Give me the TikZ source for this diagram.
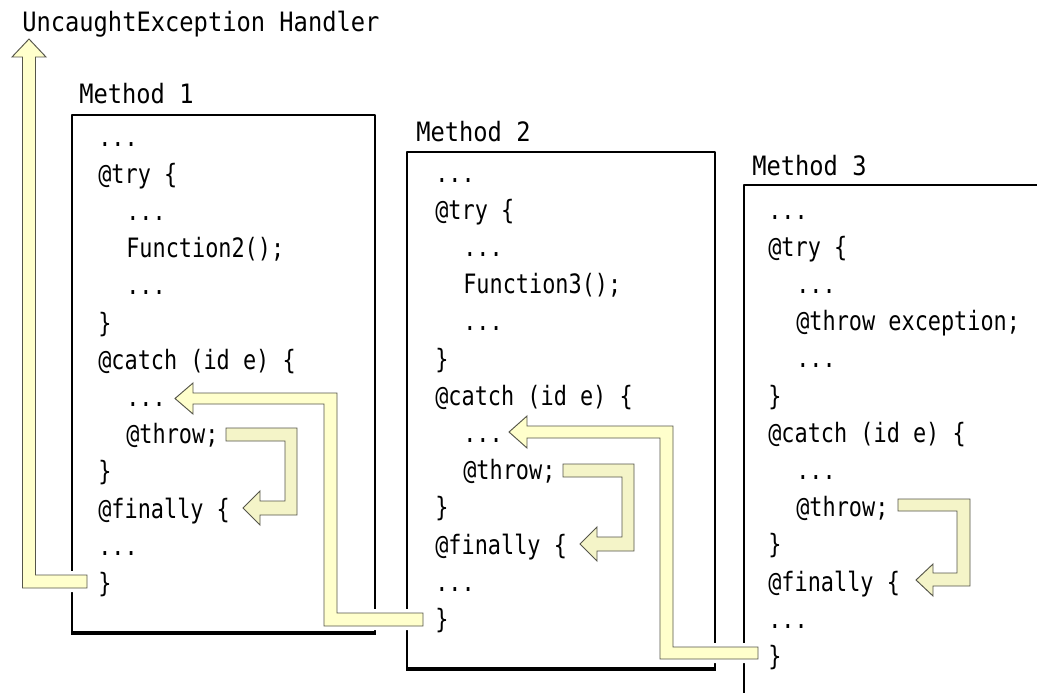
\documentclass[tikz,border=0pt]{standalone}
\usepackage{fontspec}
\newfontfamily\codefont[FakeStretch=0.82]{DejaVu Sans Mono}
\newfontfamily\headfont[FakeStretch=0.89]{DejaVu Sans Mono}
\newcommand{\codedots}{...}
\definecolor{arrowfill}{HTML}{FFFFCC}
\definecolor{throwfill}{HTML}{F4F4C8}
\definecolor{arrowline}{HTML}{55554A}
\tikzset{
  code/.style={anchor=base west, inner sep=0pt, font=\codefont\fontsize{20}{24}\selectfont},
  head/.style={anchor=base west, inner sep=0pt, font=\headfont\fontsize{20}{24}\selectfont},
  methodbox/.style={draw, line width=1.4pt},
  boxfloor/.style={line width=3.4pt},
  fatarrow/.style={fill=arrowfill, draw=arrowline, line width=0.7pt, line join=miter,
    preaction={draw=white, line width=6pt}},
  throwarrow/.style={fatarrow, fill=throwfill},
}
\begin{document}
\begin{tikzpicture}[x=0.75pt, y=-0.75pt, line join=round]
			\useasboundingbox (0,0) rectangle (1037,692);
			% method boxes
			\coordinate (M1a) at (72,115);  \coordinate (M1b) at (375,632);
			\coordinate (M2a) at (407,152); \coordinate (M2b) at (715,668);
			\coordinate (M3a) at (744,185); \coordinate (M3b) at (1070,720);
			\draw[methodbox] (M1a) rectangle (M1b);
			\draw[methodbox] (M2a) rectangle (M2b);
			\draw[methodbox] (M3a) rectangle (M3b);
			\draw[boxfloor] (71.1,633) -- (376,633);
			\draw[boxfloor] (406.1,669) -- (716,669);
			% titles
			\node[head] (uncaught) at (22,32) {UncaughtException Handler};
			\node[head] (m1title) at (79,103) {Method 1};
			\node[head] (m2title) at (416,141) {Method 2};
			\node[head] (m3title) at (752,175) {Method 3};
			% code lines
			\foreach \ind/\txt [count=\i from 0] in {0/\codedots, 0/@try \{, 1/\codedots, 1/Function2();, 1/\codedots,
				0/\}, 0/@catch (id e) \{, 1/\codedots, 1/@throw;, 0/\}, 0/@finally \{, 0/\codedots, 0/\}}
				\node[code] (mA\i) at (98+28*\ind, 146+37.2*\i) {\txt};
			\foreach \ind/\txt [count=\i from 0] in {0/\codedots, 0/@try \{, 1/\codedots, 1/Function3();, 1/\codedots,
				0/\}, 0/@catch (id e) \{, 1/\codedots, 1/@throw;, 0/\}, 0/@finally \{, 0/\codedots, 0/\}}
				\node[code] (mB\i) at (435+28*\ind, 182+37.2*\i) {\txt};
			\foreach \ind/\txt [count=\i from 0] in {0/\codedots, 0/@try \{, 1/\codedots, 1/@throw exception;, 1/\codedots,
				0/\}, 0/@catch (id e) \{, 1/\codedots, 1/@throw;, 0/\}, 0/@finally \{, 0/\codedots, 0/\}}
				\node[code] (mC\i) at (768+28*\ind, 219+37.2*\i) {\txt};
			% rethrow to the uncaught exception handler
			\draw[fatarrow] (87,575) -- (35.5,575) -- (35.5,57) -- (46,57) -- (29,39) -- (12,57)
				-- (22.5,57) -- (22.5,588) -- (87,588) -- cycle;
			% method 2 -> catch of method 1
			\draw[fatarrow] (423,613) -- (337,613) -- (337,393) -- (193,393) -- (193,383) -- (175,398.5)
				-- (193,414) -- (193,404) -- (324,404) -- (324,626) -- (423,626) -- cycle;
			% method 3 -> catch of method 2
			\draw[fatarrow] (758,647) -- (673,647) -- (673,426) -- (527,426) -- (527,416) -- (509,432)
				-- (527,448) -- (527,438) -- (660,438) -- (660,659) -- (758,659) -- cycle;
			% @throw -> @finally
			\draw[throwarrow] (226,428) -- (297,428) -- (297,515) -- (260,515) -- (260,525) -- (243,508)
				-- (260,491) -- (260,501) -- (285,501) -- (285,441) -- (226,441) -- cycle;
			\draw[throwarrow] (563,464) -- (634,464) -- (634,551) -- (597,551) -- (597,561) -- (580,544)
				-- (597,527) -- (597,537) -- (622,537) -- (622,477) -- (563,477) -- cycle;
			\draw[throwarrow] (898,499) -- (970,499) -- (970,586) -- (933,586) -- (933,596) -- (916,580)
				-- (933,564) -- (933,573) -- (957,573) -- (957,511) -- (898,511) -- cycle;
		\end{tikzpicture}
\end{document}
